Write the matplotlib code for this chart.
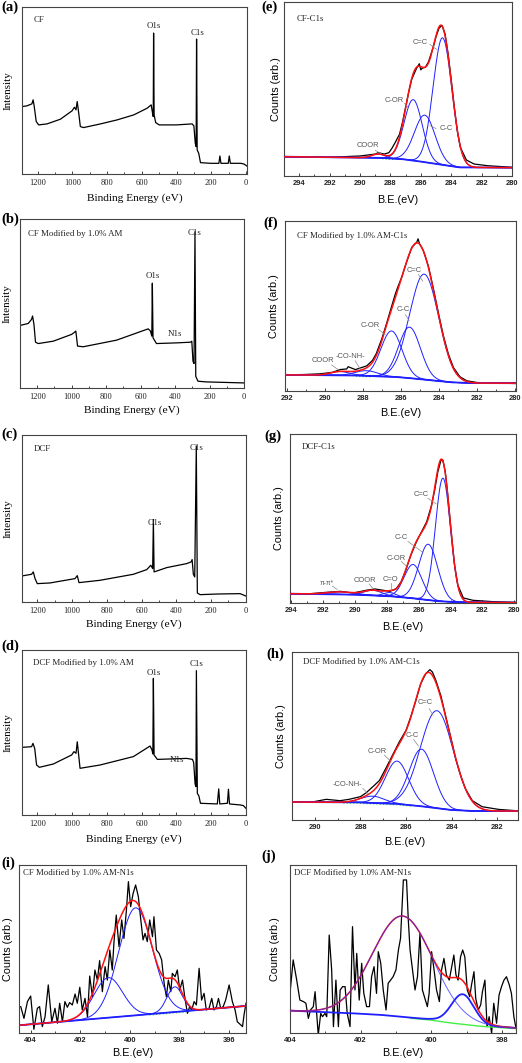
import numpy as np
import matplotlib
matplotlib.use('Agg')
import matplotlib.pyplot as plt

plt.rcParams['font.family'] = ['Liberation Serif', 'DejaVu Serif']
SERIF = ['Liberation Serif', 'DejaVu Serif']
SANS = ['Liberation Sans', 'DejaVu Sans']

# ---------------- survey spectra (a)-(d) ----------------
a_be = [1288, 1262, 1233, 1226, 1220, 1208, 1194, 1146, 1069, 1002, 988, 979, 972, 962, 954, 935,
        838, 742, 646, 569, 546, 538, 534, 532, 529, 520, 500, 400, 310, 300, 292, 287, 284.5, 281,
        272, 262, 204, 156, 150, 144, 102, 96, 90, 31, 12, -5]
a_int = [40.4, 40.8, 42.0, 44.4, 40.8, 31.4, 29.4, 30.0, 32.8, 37.8, 40.0, 38.4, 43.4, 35.4, 28.4, 27.8,
         30.0, 32.4, 35.4, 39.4, 41.4, 36.4, 34.4, 84.4, 35.4, 30.8, 29.4, 29.4, 30.0, 28.8, 18.4, 16.4, 80.8, 14.4,
         12.4, 6.8, 6.4, 6.4, 10.8, 6.4, 6.4, 10.8, 6.4, 6.4, 6.0, 4.8]

b_be = [1300, 1252, 1233, 1227, 1219, 1210, 1194, 1107, 1001, 987, 976, 966, 933, 740, 556, 543,
        535, 532, 528, 508, 392, 311, 303, 296, 290, 284.5, 280, 267, 218, 0]
b_int = [37.0, 38.2, 40.6, 42.6, 37.6, 27.1, 26.3, 27.7, 31.7, 32.7, 33.7, 24.8, 24.4, 28.3, 35.0, 33.7,
         30.7, 62.0, 29.7, 26.3, 26.7, 27.1, 27.7, 15.8, 14.5, 92.5, 6.9, 4.0, 3.6, 3.0]

c_be = [1288, 1233, 1223, 1213, 1200, 1127, 983, 970, 960, 839, 647, 570, 547, 536, 532, 528,
        455, 340, 315, 309, 302, 294, 285, 279, 263, 158, 33, 0]
c_int = [15.6, 16.6, 18.0, 14.0, 11.0, 11.4, 14.0, 15.8, 11.6, 13.0, 16.6, 19.4, 22.0, 20.0, 49.4, 18.0,
         20.6, 23.0, 24.0, 25.4, 16.6, 15.0, 93.4, 5.4, 4.4, 4.8, 5.0, 3.6]

d_be = [1288, 1233, 1225, 1215, 1204, 1188, 1108, 1002, 989, 977, 970, 962, 954, 839, 647, 551,
        540, 535, 532, 528, 509, 340, 307, 300, 292, 287, 284.5, 279, 270, 261, 164, 156, 150,
        106, 100, 94, 33, 14, -1]
d_int = [41.0, 41.4, 43.4, 40.4, 30.3, 28.9, 30.9, 36.4, 38.4, 37.4, 44.4, 36.4, 28.3, 30.3, 35.4, 41.8,
         39.4, 37.0, 82.8, 36.4, 33.7, 34.3, 33.7, 31.7, 18.8, 17.2, 87.5, 13.1, 11.5, 7.1, 6.7, 15.8, 6.7,
         7.1, 15.6, 6.7, 6.1, 5.7, 4.0]

survey_ticks = [1200, 1000, 800, 600, 400, 200, 0]
survey_minor = [1100, 900, 700, 500, 300, 100]

# ---------------- C1s / N1s high-resolution spectra ----------------
# (e) CF-C1s
e_be = [294.95, 294.0, 292.2, 290.0, 289.0, 288.8, 288.4, 288.1, 287.9, 287.7, 287.4, 287.2, 287.0, 286.8,
        286.6, 286.3, 286.1, 286.0, 285.9, 285.7, 285.5, 285.2, 285.0, 284.8, 284.6, 284.4, 284.2, 284.0,
        283.8, 283.6, 283.4, 283.0, 282.5, 281.6, 279.95]
e_cnt = [11.1, 10.9, 10.7, 11.5, 12.6, 13.4, 12.6, 13.4, 15.9, 19.0, 24.0, 31.0, 39.5, 48.0,
         55.5, 61.5, 64.5, 61.0, 62.0, 62.5, 65.5, 73.5, 80.0, 85.0, 86.5, 81.5, 70.0, 55.5,
         40.0, 26.0, 16.5, 9.2, 6.9, 5.9, 5.0]
e_bg_be = [295.0, 288.5, 287.1, 285.6, 284.2, 283.4, 280.0]
e_bg = [11.1, 10.4, 9.6, 7.8, 5.9, 4.9, 4.8]
e_center = [284.57, 285.74, 286.5, 288.8]
e_height = [73.0, 27.0, 35.0, 2.2]
e_fwhm = [1.45, 1.6, 1.4, 1.0]

# (f) CF Modified by 1.0% AM-C1s
f_be = [292.09, 291.1, 290.25, 289.6, 289.2, 288.85, 288.78, 288.4, 288.15, 287.8, 287.5, 287.3, 287.0,
        286.75, 286.5, 286.3, 286.2, 285.96, 285.7, 285.43, 285.17, 285.1, 285.03, 284.82, 284.56, 284.3,
        284.03, 283.77, 283.5, 283.24, 282.9, 282.54, 282.0, 281.14, 279.95]
f_cnt = [9.5, 9.7, 10.1, 11.0, 12.6, 13.0, 14.3, 12.6, 13.5, 14.8, 18.0, 22.0, 31.0,
         40.0, 49.5, 57.0, 60.2, 67.0, 76.0, 84.5, 87.5, 89.5, 86.8, 82.5, 73.5, 60.5,
         45.8, 32.5, 21.5, 13.8, 8.4, 6.0, 5.0, 4.7, 4.4]
f_bg_be = [292.1, 288.15, 286.05, 284.64, 283.24, 282.0, 279.95]
f_bg = [9.5, 9.1, 8.1, 6.6, 5.0, 4.6, 4.6]
f_center = [284.78, 285.55, 286.5, 287.8, 289.2]
f_height = [62.0, 30.0, 27.0, 3.0, 2.2]
f_fwhm = [1.8, 1.35, 1.3, 1.4, 1.2]

# (g) DCF-C1s
g_be = [294.06, 292.8, 291.8, 290.9, 290.1, 289.3, 288.75, 288.2, 287.8, 287.4, 287.1, 286.8, 286.5,
        286.15, 285.8, 285.5, 285.2, 285.0, 284.8, 284.6, 284.48, 284.33, 284.17, 283.96, 283.75,
        283.54, 283.2, 282.6, 281.35, 279.94]
g_cnt = [5.5, 5.5, 6.3, 6.9, 5.9, 7.5, 8.3, 7.5, 6.9, 8.5, 12.5, 19.5, 28.0,
         36.0, 42.5, 48.0, 57.5, 66.5, 77.5, 84.5, 84.5, 77.5, 63.5, 42.0, 22.5,
         10.5, 3.0, 1.6, 0.8, 0.4]
g_bg_be = [294.0, 289.7, 287.6, 286.15, 284.7, 283.4, 279.9]
g_bg = [5.5, 4.9, 3.9, 2.6, 1.0, 0.4, 0.2]
g_center = [284.48, 285.4, 286.35, 287.8, 288.85, 290.9]
g_height = [73.0, 33.0, 20.0, 2.2, 3.0, 1.5]
g_fwhm = [1.1, 1.4, 1.3, 0.9, 1.3, 2.0]

# (h) DCF Modified by 1.0% AM-C1s
h_be = [290.99, 290.2, 289.5, 288.9, 288.5, 288.0, 287.75, 287.46, 287.17, 286.88, 286.6, 286.3, 286.0,
        285.8, 285.57, 285.36, 285.14, 284.96, 284.85, 284.7, 284.48, 284.27, 284.05, 283.83, 283.61,
        283.4, 283.1, 282.67, 281.94, 281.15]
h_cnt = [10.7, 10.5, 12.3, 11.5, 12.3, 13.9, 16.2, 19.8, 23.5, 31.0, 38.5, 46.5, 53.5,
         61.4, 71.3, 81.2, 87.1, 89.5, 88.1, 83.2, 74.0, 62.0, 49.5, 36.5, 26.5,
         18.5, 11.5, 7.9, 6.3, 5.5]
h_bg_be = [291.0, 288.04, 286.3, 285.14, 283.98, 282.96, 281.1]
h_bg = [10.7, 10.5, 9.5, 7.9, 5.9, 5.3, 5.3]
h_center = [284.65, 285.33, 286.4, 287.46]
h_height = [58.0, 34.0, 25.5, 4.0]
h_fwhm = [1.7, 1.25, 1.2, 1.2]

# (i) CF Modified by 1.0% AM-N1s
i_be = [404.40, 404.27, 404.13, 404.00, 403.87, 403.73, 403.64, 403.53, 403.42, 403.29,
        403.15, 403.02, 402.92, 402.83, 402.72, 402.62, 402.52, 402.43, 402.32, 402.21,
        402.12, 402.02, 401.92, 401.81, 401.71, 401.62, 401.51, 401.41, 401.31, 401.22,
        401.11, 401.00, 400.91, 400.81, 400.71, 400.64, 400.55, 400.44, 400.33, 400.24,
        400.14, 400.06, 399.97, 399.87, 399.77, 399.66, 399.56, 399.47, 399.39, 399.30,
        399.20, 399.09, 399.03, 398.93, 398.82, 398.72, 398.62, 398.53, 398.45, 398.35,
        398.29, 398.18, 398.09, 397.99, 397.88, 397.78, 397.68, 397.59, 397.51, 397.41,
        397.32, 397.21, 397.11, 397.01, 396.92, 396.81, 396.70, 396.61, 396.51, 396.43,
        396.34, 396.24, 396.14, 396.00, 395.87, 395.76, 395.67, 395.53, 395.46, 395.40,
        395.32]
i_cnt = [15.7, 8.7, 18.7, 22.0, 2.2, 14.7, 15.7, 3.8, 9.7, 28.6,
         6.7, 14.7, 5.8, 17.7, 6.7, 18.7, 15.3, 18.1, 16.7, 23.2,
         17.7, 27.2, 13.7, 20.6, 9.7, 33.9, 21.6, 37.5, 31.5, 43.1,
         24.6, 39.5, 31.5, 49.4, 37.5, 54.4, 70.2, 51.4, 67.3, 56.3,
         73.2, 90.1, 75.2, 83.1, 88.1, 81.2, 67.3, 55.4, 59.3, 54.4,
         67.3, 57.3, 69.2, 49.4, 47.4, 43.5, 29.6, 21.6, 31.5, 24.6,
         35.5, 33.5, 37.5, 25.6, 31.5, 20.6, 11.7, 15.7, 13.7, 18.7,
         16.7, 38.5, 19.6, 23.6, 13.7, 14.7, 20.6, 13.7, 15.7, 20.6,
         14.7, 15.7, 19.6, 28.6, 18.7, 13.7, 6.7, 4.8, 3.8, 10.7,
         17.7]
i_bg_be = [404.47, 395.32]
i_bg = [4.6, 16.1]
i_center = [399.77, 400.87, 398.19]
i_height = [64.0, 23.8, 15.0]
i_fwhm = [1.6, 1.35, 0.74]

# (j) DCF Modified by 1.0% AM-N1s
j_be = [404.00, 403.91, 403.81, 403.72, 403.62, 403.55, 403.48, 403.42, 403.34, 403.29,
        403.20, 403.13, 403.08, 403.01, 402.96, 402.89, 402.82, 402.77, 402.70, 402.63,
        402.58, 402.51, 402.44, 402.38, 402.30, 402.23, 402.16, 402.11, 402.04, 401.97,
        401.91, 401.83, 401.75, 401.69, 401.62, 401.55, 401.50, 401.43, 401.36, 401.28,
        401.22, 401.15, 401.08, 401.00, 400.93, 400.87, 400.79, 400.75, 400.70, 400.65,
        400.60, 400.53, 400.46, 400.39, 400.32, 400.25, 400.18, 400.11, 400.06, 399.99,
        399.92, 399.85, 399.77, 399.71, 399.64, 399.57, 399.49, 399.42, 399.36, 399.30,
        399.24, 399.17, 399.11, 399.05, 398.98, 398.91, 398.86, 398.79, 398.74, 398.67,
        398.60, 398.55, 398.48, 398.42, 398.36, 398.29, 398.23, 398.15, 398.08, 398.01,
        397.94, 397.87, 397.79, 397.73, 397.66, 397.60]
j_cnt = [23.6, 43.5, 31.5, 19.6, 18.7, 17.7, 8.7, 13.7, 15.7, 24.6,
         -1.2, 11.7, 9.7, 11.7, 9.7, 58.3, 37.5, 3.8, 31.5, 3.8,
         25.6, 27.6, 27.6, 11.7, 3.8, 63.3, 25.6, 47.4, 19.6, 41.5,
         23.6, 15.7, 15.7, 33.5, 39.5, 23.6, 48.4, 41.5, 25.6, 13.7,
         29.6, 31.5, 33.5, 37.5, 49.4, 56.3, 91.1, 91.1, 91.1, 67.3,
         49.4, 37.5, 25.6, 33.5, 59.3, 25.6, 20.6, 15.7, 23.6, 48.4,
         37.5, 25.6, 18.7, 37.5, 44.4, 34.5, 31.5, 39.5, 46.4, 34.5,
         31.5, 45.4, 49.4, 45.4, 25.6, 21.6, 28.6, 36.5, 20.6, 13.7,
         16.7, 24.6, 31.5, 3.8, 9.7, -0.2, 17.7, 5.8, 22.6, 27.6,
         31.5, 33.5, 28.6, 23.6, 9.7, 2.8]
j_bg_be = [404.0, 402.0, 401.3, 400.5, 400.0, 399.5, 399.0, 398.5, 397.6]
j_bg = [13.3, 11.5, 10.6, 9.0, 8.1, 6.5, 5.3, 4.2, 3.0]
j_center = [400.81, 399.11]
j_height = [60.0, 17.5]
j_fwhm = [2.0, 0.75]

# ---------------- layout ----------------
W, H = 522, 1063
fig = plt.figure(figsize=(W / 100, H / 100), dpi=100)


def add_ax(l, t, r, b):
    return fig.add_axes([l / W, 1 - b / H, (r - l) / W, (b - t) / H])


def frame(ax):
    for s in ax.spines.values():
        s.set_color('#444444')
        s.set_linewidth(0.8)


def gauss(x, c, h, w):
    return h * np.exp(-4 * np.log(2) * (x - c) ** 2 / w ** 2)


def survey(ax, be, inten, xlim, labpad_x, labpad_y):
    ax.plot(be, inten, color='black', lw=0.9)
    ax.set_xlim(*xlim)
    ax.set_ylim(0, 100)
    ax.set_yticks([])
    ax.set_xticks(survey_ticks)
    ax.set_xticklabels([str(t) for t in survey_ticks], fontsize=6.0, family=SERIF)
    ax.set_xticks(survey_minor, minor=True)
    ax.tick_params(axis='x', which='major', direction='in', length=2.5, width=0.6, pad=3.5, colors='#222222')
    ax.tick_params(axis='x', which='minor', direction='in', length=1.5, width=0.5)
    ax.set_xlabel('Binding Energy (eV)', fontsize=8.2, family=SERIF, labelpad=labpad_x)
    ax.set_ylabel('Intensity', fontsize=7.9, family=SERIF, labelpad=labpad_y)
    frame(ax)


def stxt(ax, x, y, s, ha='center'):
    ax.text(x, y, s, fontsize=6.4, family=SERIF, ha=ha, va='center', color='#222222')


def xps(ax, xlim, ticks, dbe, dcnt, bgbe, bgv, centers, heights, fwhms, lpx, lpy,
        green=None):
    ax.plot(dbe, dcnt, color='black', lw=0.9, zorder=2)
    x = np.linspace(min(xlim), max(xlim), 900)
    bg = np.interp(x, bgbe[::-1], bgv[::-1])
    if green is not None:
        m = (x >= green[1]) & (x <= green[0])
        ax.plot(x[m], bg[m] - 0.5, color='#33dd33', lw=0.9, ls=':', zorder=3)
    total = bg.copy()
    for c, h, w in zip(centers, heights, fwhms):
        g = gauss(x, c, h, w)
        total += g
        ax.plot(x, bg + g, color='#1f1fff', lw=0.7, zorder=4)
    ax.plot(x, bg, color='#1f1fff', lw=1.3, zorder=4)
    ax.plot(x, total, color='#ff1010', lw=1.1, zorder=5)
    ax.set_xlim(*xlim)
    ax.set_ylim(0, 100)
    ax.set_yticks([])
    ax.set_xticks(ticks)
    ax.set_xticklabels([str(t) for t in ticks], fontsize=5.4, family=SANS, fontweight='bold')
    minors = [t - 1 for t in ticks if min(xlim) < t - 1 < max(xlim)]
    ax.set_xticks(minors, minor=True)
    ax.tick_params(axis='x', which='major', direction='in', length=2.5, width=0.6, pad=3, colors='#222222')
    ax.tick_params(axis='x', which='minor', direction='in', length=1.5, width=0.5)
    ax.set_xlabel('B.E.(eV)', fontsize=7.8, family=SANS, labelpad=lpx)
    ax.set_ylabel('Counts (arb.)', fontsize=7.8, family=SANS, labelpad=lpy)
    frame(ax)


def ann(ax, s, txy, p0, p1, fs=5.4):
    ax.text(txy[0], txy[1], s, fontsize=fs, family=SANS, ha='center', va='center', color='#555555', zorder=6)
    ax.plot([p0[0], p1[0]], [p0[1], p1[1]], color='#888888', lw=0.5, zorder=6)


def title(ax, x, y, s):
    ax.text(x, y, s, fontsize=6.3, family=SERIF, ha='left', va='center', color='#222222', zorder=7)


# (a)
ax = add_ax(22, 7, 247, 174)
survey(ax, a_be, a_int, (1290, -6), 4.5, 7)
stxt(ax, 1225, 92, 'CF', ha='left')
stxt(ax, 531, 88.5, 'O1s')
stxt(ax, 281, 84.5, 'C1s')

# (b)
ax = add_ax(20, 219, 244, 388)
survey(ax, b_be, b_int, (1300, 0), 3.5, 6)
stxt(ax, 1252, 91, 'CF Modified by 1.0% AM', ha='left')
stxt(ax, 285, 92, 'C1s')
stxt(ax, 531, 66.5, 'O1s')
stxt(ax, 400, 32, 'N1s')

# (c)
ax = add_ax(22, 435, 246, 602)
survey(ax, c_be, c_int, (1288, -1), 3, 7)
stxt(ax, 1223, 91.4, 'DCF', ha='left')
stxt(ax, 523, 47.5, 'O1s')
stxt(ax, 281, 92, 'C1s')

# (d)
ax = add_ax(22, 650, 246, 815)
survey(ax, d_be, d_int, (1288, -1), 4.5, 7)
stxt(ax, 1223, 92, 'DCF Modified by 1.0% AM', ha='left')
stxt(ax, 528, 86, 'O1s')
stxt(ax, 283, 91.5, 'C1s')
stxt(ax, 398, 33.3, 'N1s')

# (e)
ax = add_ax(284, 2, 512, 176)
xps(ax, (295, 280), [294, 292, 290, 288, 286, 284, 282, 280], e_be, e_cnt, e_bg_be, e_bg,
    e_center, e_height, e_fwhm, 5.5, 2.5, green=(288.6, 287.8))
title(ax, 294.2, 90, 'CF-C1s')
ann(ax, 'C=C', (286.05, 76.7), (285.41, 75.7), (284.95, 72.7))
ann(ax, 'C-OR', (287.77, 43.6), (287.07, 41.7), (286.83, 39.4))
ann(ax, 'C-C', (284.35, 27.3), (285.0, 27.3), (285.4, 28.9))
ann(ax, 'COOR', (289.5, 17.4), (289.0, 14.8), (288.6, 12.8))

# (f)
ax = add_ax(285, 221, 516, 391)
xps(ax, (292.1, 279.95), [292, 290, 288, 286, 284, 282, 280], f_be, f_cnt, f_bg_be, f_bg,
    f_center, f_height, f_fwhm, 4.5, 4, green=(288.5, 287.6))
title(ax, 291.47, 91.3, 'CF Modified by 1.0% AM-C1s')
ann(ax, 'C=C', (285.31, 71.0), (285.08, 68.5), (284.85, 64.6))
ann(ax, 'C-C', (285.9, 47.8), (285.77, 44.9), (285.57, 41.6))
ann(ax, 'C-OR', (287.62, 38.7), (287.18, 36.2), (286.83, 33.3))
ann(ax, '-CO-NH-', (288.64, 20.3), (288.41, 17.8), (288.15, 13.0))
ann(ax, 'COOR', (290.11, 17.8), (289.64, 15.3), (289.29, 12.4))

# (g)
ax = add_ax(290, 434, 516, 603)
xps(ax, (294.06, 279.9), [294, 292, 290, 288, 286, 284, 282, 280], g_be, g_cnt, g_bg_be, g_bg,
    g_center, g_height, g_fwhm, 6, 4.5)
title(ax, 293.33, 92.5, 'DCF-C1s')
ann(ax, 'C=C', (285.83, 64.0), (285.42, 62.0), (284.9, 58.7))
ann(ax, 'C-C', (287.08, 39.0), (286.67, 36.4), (285.73, 29.9))
ann(ax, 'C-OR', (287.4, 26.6), (287.08, 24.6), (286.77, 21.7))
ann(ax, 'C=O', (287.75, 13.8), (287.75, 11.8), (287.75, 6.0))
ann(ax, 'COOR', (289.4, 13.4), (289.1, 11.3), (288.9, 9.0))
ann(ax, 'π-π*', (291.77, 11.4), (291.4, 10.0), (291.1, 8.0), fs=4.8)

# (h)
ax = add_ax(292, 652, 518, 820)
xps(ax, (291.0, 281.1), [290, 288, 286, 284, 282], h_be, h_cnt, h_bg_be, h_bg,
    h_center, h_height, h_fwhm, 4.5, 4.5, green=(288.8, 285.8))
title(ax, 290.5, 94, 'DCF Modified by 1.0% AM-C1s')
ann(ax, 'C=C', (285.18, 69.9), (284.99, 66.3), (284.82, 62.4))
ann(ax, 'C-C', (285.75, 50.5), (285.67, 47.9), (285.46, 44.0))
ann(ax, 'C-OR', (287.29, 41.0), (286.95, 38.6), (286.66, 34.7))
ann(ax, '-CO-NH-', (288.59, 21.4), (287.9, 18.8), (287.6, 14.9))

# (i)
ax = add_ax(19, 865, 246, 1033)
xps(ax, (404.47, 395.32), [404, 402, 400, 398, 396], i_be, i_cnt, i_bg_be, i_bg,
    i_center, i_height, i_fwhm, 3, 4, green=(399.3, 397.7))
title(ax, 404.3, 95.2, 'CF Modified by 1.0% AM-N1s')

# (j)
ax = add_ax(290, 865, 516, 1033)
ax.plot(j_be, j_cnt, color='black', lw=0.9, zorder=2)
xj = np.linspace(397.6, 404.0, 900)
bgj = np.interp(xj, j_bg_be[::-1], j_bg[::-1])
mj = xj <= 400.6
ax.plot(xj[mj], bgj[mj] - 0.4, color='#44ee44', lw=1.0, zorder=3)
g_main = gauss(xj, j_center[0], j_height[0], j_fwhm[0])
g_side = gauss(xj, j_center[1], j_height[1], j_fwhm[1])
ax.plot(xj, bgj + g_side, color='#1f1fff', lw=1.3, zorder=4)
ax.plot(xj, bgj + g_main + g_side, color='#ff1010', lw=1.1, zorder=5)
ax.plot(xj, bgj + g_main, color='#3030ff', lw=0.7, alpha=0.75, zorder=6)
ax.set_xlim(404.0, 397.6)
ax.set_ylim(0, 100)
ax.set_yticks([])
ax.set_xticks([404, 402, 400, 398])
ax.set_xticklabels(['404', '402', '400', '398'], fontsize=5.4, family=SANS, fontweight='bold')
ax.set_xticks([403, 401, 399], minor=True)
ax.tick_params(axis='x', which='major', direction='in', length=2.5, width=0.6, pad=3, colors='#222222')
ax.tick_params(axis='x', which='minor', direction='in', length=1.5, width=0.5)
ax.set_xlabel('B.E.(eV)', fontsize=7.8, family=SANS, labelpad=3)
ax.set_ylabel('Counts (arb.)', fontsize=7.8, family=SANS, labelpad=7)
frame(ax)
title(ax, 403.9, 95.2, 'DCF Modified by 1.0% AM-N1s')

# panel letters
letters = [('(a)', 1, 1), ('(b)', 1, 213), ('(c)', 1, 428), ('(d)', 1, 640), ('(e)', 261, 1),
           ('(f)', 263, 217), ('(g)', 264, 430), ('(h)', 266, 648), ('(i)', 1, 857), ('(j)', 261, 850)]
for s, px, py in letters:
    fig.text(px / W, 1 - py / H, s, fontsize=10.5, fontweight='bold', family=SERIF, ha='left', va='top')

fig.savefig('out.png', dpi=100)
